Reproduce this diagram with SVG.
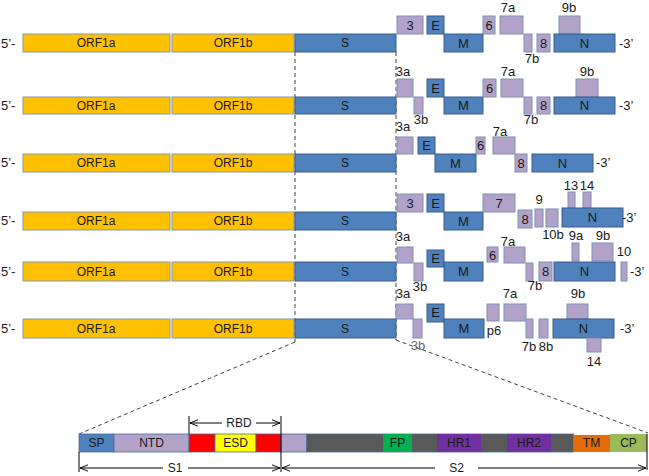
<svg xmlns="http://www.w3.org/2000/svg" width="649" height="476" viewBox="0 0 649 476">
<style>
text{font-family:"Liberation Sans",Arial,sans-serif;fill:#1a1a1a}
.orf{fill:#FFC000;stroke:#8497B0;stroke-width:1}
.b{fill:#4F81BD;stroke:#385D8A;stroke-width:1}
.l{fill:#B3A2C7;stroke:#7F8FB5;stroke-width:1}
.t12{font-size:12px;text-anchor:middle}
.t13{font-size:13px;text-anchor:middle}
.end{font-size:13px}
.dash{stroke:#444;stroke-width:1;stroke-dasharray:4 3;fill:none}
.ln{stroke:#000;stroke-width:1;fill:none}
.seg{stroke:#4A6A9A;stroke-width:0.8}
</style>
<defs>
<marker id="arr" viewBox="0 0 10 10" refX="10" refY="5" markerWidth="8" markerHeight="8" orient="auto-start-reverse" markerUnits="userSpaceOnUse">
<path d="M0,1 L10,5 L0,9" fill="none" stroke="#000" stroke-width="1.2"/>
</marker>
</defs>
<g id="connectors">
<line class="dash" x1="295" y1="52" x2="295" y2="342"/>
<line class="dash" x1="396" y1="52" x2="396" y2="340"/>
<line class="dash" x1="295" y1="342" x2="79" y2="434"/>
<line class="dash" x1="396" y1="340" x2="648" y2="433"/>
</g>
<!-- Row 1 -->
<g id="row1">
<text class="end" x="1" y="48">5’-</text>
<g id="r1-orf1a"><rect class="orf" x="23" y="34" width="147" height="18"/><text class="t12" x="96" y="47">ORF1a</text></g>
<g id="r1-orf1b"><rect class="orf" x="172" y="34" width="122" height="18"/><text class="t12" x="233" y="47">ORF1b</text></g>
<g id="r1-s"><rect class="b" x="295" y="34" width="101" height="18"/><text class="t12" x="345" y="47">S</text></g>
<g id="r1-3"><rect class="l" x="397" y="16" width="26" height="18"/><text class="t13" x="410" y="30">3</text></g>
<g id="r1-e"><rect class="b" x="427" y="16" width="17" height="18"/><text class="t13" x="435.5" y="30">E</text></g>
<g id="r1-m"><rect class="b" x="444" y="34" width="39" height="18"/><text class="t13" x="463.5" y="48">M</text></g>
<g id="r1-6"><rect class="l" x="483" y="16" width="12" height="18"/><text class="t13" x="489" y="30">6</text></g>
<g id="r1-7a"><rect class="l" x="500" y="16" width="23" height="18"/><text class="t13" x="508" y="12">7a</text></g>
<g id="r1-7b"><rect class="l" x="524" y="34" width="8" height="18"/><text class="t13" x="532" y="63">7b</text></g>
<g id="r1-8"><rect class="l" x="537" y="34" width="13" height="18"/><text class="t13" x="543.5" y="48">8</text></g>
<g id="r1-9b"><rect class="l" x="559" y="16" width="21" height="18"/><text class="t13" x="569" y="12">9b</text></g>
<g id="r1-n"><rect class="b" x="554" y="34" width="61" height="18"/><text class="t13" x="584.5" y="48">N</text></g>
<text class="end" x="619" y="48">-3’</text>
</g>
<!-- Row 2 -->
<g id="row2">
<text class="end" x="1" y="110">5’-</text>
<g id="r2-orf1a"><rect class="orf" x="23" y="97" width="147" height="17"/><text class="t12" x="96" y="110">ORF1a</text></g>
<g id="r2-orf1b"><rect class="orf" x="172" y="97" width="122" height="17"/><text class="t12" x="233" y="110">ORF1b</text></g>
<g id="r2-s"><rect class="b" x="295" y="97" width="101" height="17"/><text class="t12" x="345" y="110">S</text></g>
<g id="r2-3a"><rect class="l" x="397" y="79" width="16" height="18"/><text class="t13" x="403" y="76">3a</text></g>
<g id="r2-3b"><rect class="l" x="414" y="97" width="9" height="17"/><text class="t13" x="421" y="124">3b</text></g>
<g id="r2-e"><rect class="b" x="427" y="79" width="17" height="18"/><text class="t13" x="435.5" y="93">E</text></g>
<g id="r2-m"><rect class="b" x="444" y="97" width="39" height="17"/><text class="t13" x="463.5" y="110">M</text></g>
<g id="r2-6"><rect class="l" x="483" y="79" width="13" height="18"/><text class="t13" x="489.5" y="93">6</text></g>
<g id="r2-7a"><rect class="l" x="501" y="79" width="22" height="18"/><text class="t13" x="508" y="76">7a</text></g>
<g id="r2-7b"><rect class="l" x="524" y="97" width="8" height="17"/><text class="t13" x="531" y="124">7b</text></g>
<g id="r2-8"><rect class="l" x="537" y="97" width="13" height="17"/><text class="t13" x="543.5" y="110">8</text></g>
<g id="r2-9b"><rect class="l" x="576" y="79" width="22" height="18"/><text class="t13" x="587" y="76">9b</text></g>
<g id="r2-n"><rect class="b" x="554" y="97" width="61" height="17"/><text class="t13" x="584.5" y="110">N</text></g>
<text class="end" x="619" y="110">-3’</text>
</g>
<!-- Row 3 -->
<g id="row3">
<text class="end" x="1" y="167">5’-</text>
<g id="r3-orf1a"><rect class="orf" x="23" y="154" width="147" height="18"/><text class="t12" x="96" y="167">ORF1a</text></g>
<g id="r3-orf1b"><rect class="orf" x="172" y="154" width="122" height="18"/><text class="t12" x="233" y="167">ORF1b</text></g>
<g id="r3-s"><rect class="b" x="295" y="154" width="101" height="18"/><text class="t12" x="345" y="167">S</text></g>
<g id="r3-3a"><rect class="l" x="397" y="137" width="16" height="17"/><text class="t13" x="403" y="131">3a</text></g>
<g id="r3-e"><rect class="b" x="418" y="137" width="17" height="17"/><text class="t13" x="426.5" y="150">E</text></g>
<g id="r3-m"><rect class="b" x="435" y="154" width="41" height="18"/><text class="t13" x="455.5" y="168">M</text></g>
<g id="r3-6"><rect class="l" x="476" y="137" width="9" height="17"/><text class="t13" x="480.5" y="150">6</text></g>
<g id="r3-7a"><rect class="l" x="493" y="137" width="22" height="17"/><text class="t13" x="500" y="136">7a</text></g>
<g id="r3-8"><rect class="l" x="515" y="154" width="12" height="18"/><text class="t13" x="521" y="168">8</text></g>
<g id="r3-n"><rect class="b" x="532" y="154" width="61" height="18"/><text class="t13" x="562.5" y="168">N</text></g>
<text class="end" x="596" y="167">-3’</text>
</g>
<!-- Row 4 -->
<g id="row4">
<text class="end" x="1" y="225">5’-</text>
<g id="r4-orf1a"><rect class="orf" x="23" y="212" width="147" height="18"/><text class="t12" x="96" y="225">ORF1a</text></g>
<g id="r4-orf1b"><rect class="orf" x="172" y="212" width="122" height="18"/><text class="t12" x="233" y="225">ORF1b</text></g>
<g id="r4-s"><rect class="b" x="295" y="212" width="101" height="18"/><text class="t12" x="345" y="225">S</text></g>
<g id="r4-3"><rect class="l" x="397" y="194" width="26" height="18"/><text class="t13" x="410" y="208">3</text></g>
<g id="r4-e"><rect class="b" x="427" y="194" width="17" height="18"/><text class="t13" x="435.5" y="208">E</text></g>
<g id="r4-m"><rect class="b" x="444" y="212" width="39" height="18"/><text class="t13" x="463.5" y="226">M</text></g>
<g id="r4-7"><rect class="l" x="483" y="194" width="32" height="18"/><text class="t13" x="499" y="208">7</text></g>
<g id="r4-8"><rect class="l" x="518" y="210" width="14" height="18"/><text class="t13" x="525" y="224">8</text></g>
<g id="r4-9"><rect class="l" x="535" y="209" width="8" height="18"/><text class="t13" x="539" y="204">9</text></g>
<g id="r4-10b"><rect class="l" x="546" y="209" width="12" height="18"/><text class="t13" x="553" y="239">10b</text></g>
<g id="r4-13"><rect class="l" x="568" y="192" width="7" height="16"/><text class="t13" x="571" y="190">13</text></g>
<g id="r4-14"><rect class="l" x="583" y="192" width="8" height="16"/><text class="t13" x="587" y="190">14</text></g>
<g id="r4-n"><rect class="b" x="562" y="208" width="61" height="19"/><text class="t13" x="592.5" y="222">N</text></g>
<text class="end" x="622" y="222">-3’</text>
</g>
<!-- Row 5 -->
<g id="row5">
<text class="end" x="1" y="276">5’-</text>
<g id="r5-orf1a"><rect class="orf" x="23" y="262" width="147" height="19"/><text class="t12" x="96" y="276">ORF1a</text></g>
<g id="r5-orf1b"><rect class="orf" x="172" y="262" width="122" height="19"/><text class="t12" x="233" y="276">ORF1b</text></g>
<g id="r5-s"><rect class="b" x="295" y="262" width="101" height="19"/><text class="t12" x="345" y="276">S</text></g>
<g id="r5-3a"><rect class="l" x="397" y="247" width="16" height="16"/><text class="t13" x="403" y="241">3a</text></g>
<g id="r5-3b"><rect class="l" x="414" y="263" width="9" height="18"/><text class="t13" x="420" y="291">3b</text></g>
<g id="r5-e"><rect class="b" x="427" y="250" width="17" height="17"/><text class="t13" x="435.5" y="263">E</text></g>
<g id="r5-m"><rect class="b" x="444" y="262" width="39" height="19"/><text class="t13" x="463.5" y="276">M</text></g>
<g id="r5-6"><rect class="l" x="487" y="247" width="11" height="15"/><text class="t13" x="492.5" y="260">6</text></g>
<g id="r5-7a"><rect class="l" x="504" y="247" width="21" height="16"/><text class="t13" x="508" y="246">7a</text></g>
<g id="r5-7b"><rect class="l" x="526" y="263" width="7" height="18"/><text class="t13" x="535" y="290">7b</text></g>
<g id="r5-8"><rect class="l" x="539" y="262" width="13" height="19"/><text class="t13" x="545.5" y="276">8</text></g>
<g id="r5-9a"><rect class="l" x="572" y="243" width="7" height="18"/><text class="t13" x="576" y="240">9a</text></g>
<g id="r5-9b"><rect class="l" x="592" y="243" width="21" height="18"/><text class="t13" x="603" y="240">9b</text></g>
<g id="r5-n"><rect class="b" x="554" y="262" width="61" height="19"/><text class="t13" x="584.5" y="276">N</text></g>
<g id="r5-10"><rect class="l" x="621" y="262" width="6" height="19"/><text class="t13" x="624" y="256">10</text></g>
<text class="end" x="630" y="276">-3’</text>
</g>
<!-- Row 6 -->
<g id="row6">
<text class="end" x="1" y="333">5’-</text>
<g id="r6-orf1a"><rect class="orf" x="23" y="319" width="147" height="19"/><text class="t12" x="96" y="333">ORF1a</text></g>
<g id="r6-orf1b"><rect class="orf" x="172" y="319" width="122" height="19"/><text class="t12" x="233" y="333">ORF1b</text></g>
<g id="r6-s"><rect class="b" x="295" y="319" width="101" height="19"/><text class="t12" x="345" y="333">S</text></g>
<g id="r6-3a"><rect class="l" x="396" y="304" width="17" height="15"/><text class="t13" x="403" y="298">3a</text></g>
<g id="r6-3b"><rect class="l" x="413" y="319" width="9" height="19"/><text class="t13" x="418" y="350" style="fill:#666">3b</text></g>
<g id="r6-e"><rect class="b" x="427" y="304" width="17" height="18"/><text class="t13" x="435.5" y="317">E</text></g>
<g id="r6-m"><rect class="b" x="444" y="319" width="40" height="19"/><text class="t13" x="464" y="333">M</text></g>
<g id="r6-p6"><rect class="l" x="487" y="304" width="12" height="17"/><text class="t13" x="494" y="335">p6</text></g>
<g id="r6-7a"><rect class="l" x="504" y="304" width="22" height="17"/><text class="t13" x="510" y="298">7a</text></g>
<g id="r6-7b"><rect class="l" x="526" y="319" width="7" height="19"/><text class="t13" x="529" y="351">7b</text></g>
<g id="r6-8b"><rect class="l" x="539" y="319" width="9" height="19"/><text class="t13" x="546" y="351">8b</text></g>
<g id="r6-9b"><rect class="l" x="567" y="304" width="21" height="15"/><text class="t13" x="578" y="298">9b</text></g>
<g id="r6-n"><rect class="b" x="553" y="319" width="61" height="19"/><text class="t13" x="583.5" y="333">N</text></g>
<g id="r6-14"><rect class="l" x="587" y="338" width="14" height="14"/><text class="t13" x="594" y="366">14</text></g>
<text class="end" x="620" y="333">-3’</text>
</g>
<!-- Spike domain bar -->
<g id="spike">
<rect class="seg" x="306.5" y="434" width="267" height="18" fill="#595959"/>
<g id="sp"><rect class="seg" x="79" y="434" width="35" height="18" fill="#4F81BD"/><text class="t12" x="96.5" y="447">SP</text></g>
<g id="ntd"><rect class="seg" x="114" y="434" width="75" height="18" fill="#B3A2C7"/><text class="t12" x="151.5" y="447">NTD</text></g>
<rect class="seg" x="189" y="434" width="26" height="18" fill="#FF0000"/>
<g id="esd"><rect class="seg" x="215" y="434" width="41" height="18" fill="#FFFF00"/><text class="t12" x="235.5" y="447">ESD</text></g>
<rect class="seg" x="256" y="434" width="25" height="18" fill="#FF0000"/>
<rect class="seg" x="281" y="434" width="25.5" height="18" fill="#B3A2C7"/>
<g id="fp"><rect x="383" y="434" width="29" height="18" fill="#00B050"/><text class="t12" x="397.5" y="447">FP</text></g>
<g id="hr1"><rect x="437" y="434" width="44" height="18" fill="#7030A0"/><text class="t12" x="459" y="447">HR1</text></g>
<g id="hr2"><rect x="507" y="434" width="44" height="18" fill="#7030A0"/><text class="t12" x="529" y="447">HR2</text></g>
<g id="tm"><rect x="573.5" y="435" width="36.5" height="17" fill="#E46C0A"/><text class="t12" x="591.5" y="447">TM</text></g>
<g id="cp"><rect x="610" y="434" width="37" height="18" fill="#9BBB59"/><text class="t12" x="628.5" y="447">CP</text></g>
</g>
<g id="annotations">
<line class="ln" x1="189" y1="416" x2="189" y2="434"/>
<line class="ln" x1="281" y1="416" x2="281" y2="472"/>
<line class="ln" x1="79" y1="452" x2="79" y2="472"/>
<line class="ln" x1="647" y1="434" x2="647" y2="470"/>
<line class="ln" x1="190" y1="423" x2="222" y2="423" marker-start="url(#arr)"/>
<line class="ln" x1="256" y1="423" x2="280" y2="423" marker-end="url(#arr)"/>
<text class="t12" x="239" y="427">RBD</text>
<line class="ln" x1="80" y1="468" x2="163" y2="468" marker-start="url(#arr)"/>
<line class="ln" x1="188" y1="468" x2="280" y2="468" marker-end="url(#arr)"/>
<text class="t12" x="175" y="472">S1</text>
<line class="ln" x1="282" y1="468" x2="435" y2="468" marker-start="url(#arr)"/>
<line class="ln" x1="478" y1="468" x2="646" y2="468" marker-end="url(#arr)"/>
<text class="t12" x="456.5" y="472">S2</text>
</g>
</svg>
